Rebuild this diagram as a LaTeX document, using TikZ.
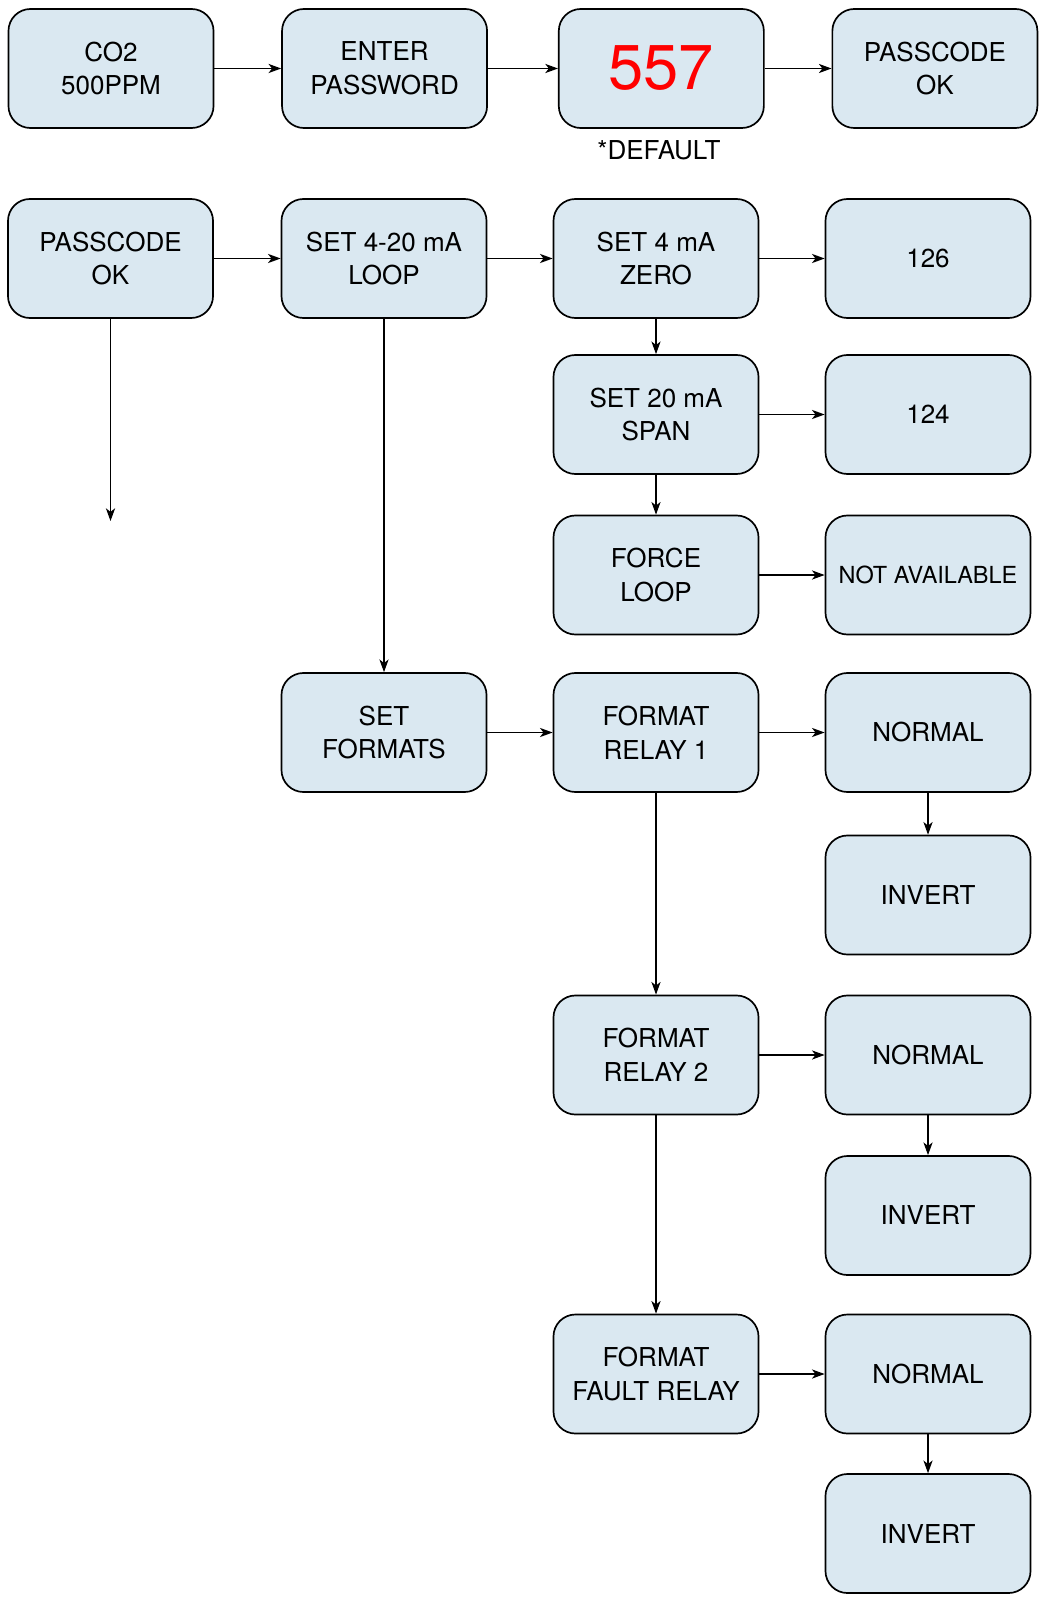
\documentclass[tikz,border=0pt]{standalone}
\usepackage{fontspec}
\setmainfont{TeX Gyre Heros}
\usetikzlibrary{arrows.meta,positioning}
\definecolor{menublue}{RGB}{218,232,241}
\definecolor{codered}{RGB}{255,0,0}

\begin{document}
\begin{tikzpicture}[
    x=0.025cm, y=-0.025cm,
    node distance=1.67cm,
    menu/.style={rectangle, draw, line width=1.2pt, rounded corners=0.55cm, fill=menublue, minimum width=5.125cm, minimum height=2.975cm, align=center, font=\fontsize{18.5}{24}\selectfont},
    arrow/.style={-{Stealth[length=9pt, width=6.5pt, inset=2.5pt]}, line width=0.9pt}
]
\useasboundingbox (0,0) rectangle (1045,1602);

% Password entry
\node[menu] (co2) at (111, 68.5) {CO2\\500PPM};
\node[menu, right=of co2] (pwd) {ENTER\\PASSWORD};
\node[menu, right=1.75cm of pwd, font=\fontsize{45}{45}\selectfont, text=codered] (code) {557};
\node[menu, right=of code] (ok) {PASSCODE\\OK};
\node[font=\fontsize{18.5}{24}\selectfont] (default) at (659, 150) {*DEFAULT};

\draw[arrow] (co2) -- (pwd);
\draw[arrow] (pwd) -- (code);
\draw[arrow] (code) -- (ok);

% Main menu
\node[menu] (pok) at (110.5, 258.5) {PASSCODE\\OK};
\node[menu] (loop) at (384, 258.5) {SET 4-20 mA\\LOOP};
\coordinate (next) at (110.5, 521);

\draw[arrow] (pok) -- (loop);
\draw[arrow] (pok) -- (next);

% 4-20 mA loop
\node[menu] (zero) at (656, 258.5) {SET 4 mA\\ZERO};
\node[menu] (span) at (656, 414.5) {SET 20 mA\\SPAN};
\node[menu] (force) at (656, 575) {FORCE\\LOOP};
\node[menu] (v126) at (928, 258.5) {126};
\node[menu] (v124) at (928, 414.5) {124};
\node[menu, font=\fontsize{16.7}{21}\selectfont] (na) at (928, 575) {NOT AVAILABLE};

\draw[arrow] (loop) -- (zero);
\draw[arrow] (zero) -- (span);
\draw[arrow] (span) -- (force);
\draw[arrow] (zero) -- (v126);
\draw[arrow] (span) -- (v124);
\draw[arrow] (force) -- (na);

% Relay formats
\node[menu] (formats) at (384, 732.5) {SET\\FORMATS};
\node[menu] (relay1) at (656, 732.5) {FORMAT\\RELAY 1};
\node[menu] (relay2) at (656, 1055) {FORMAT\\RELAY 2};
\node[menu] (fault) at (656, 1374) {FORMAT\\FAULT RELAY};

\node[menu] (norm1) at (928, 732.5) {NORMAL};
\node[menu] (inv1) at (928, 895) {INVERT};
\node[menu] (norm2) at (928, 1055) {NORMAL};
\node[menu] (inv2) at (928, 1215.5) {INVERT};
\node[menu] (norm3) at (928, 1374) {NORMAL};
\node[menu] (inv3) at (928, 1533.5) {INVERT};

\draw[arrow] (loop) -- (formats);
\draw[arrow] (formats) -- (relay1);
\draw[arrow] (relay1) -- (relay2);
\draw[arrow] (relay2) -- (fault);
\draw[arrow] (relay1) -- (norm1);
\draw[arrow] (relay2) -- (norm2);
\draw[arrow] (fault) -- (norm3);
\draw[arrow] (norm1) -- (inv1);
\draw[arrow] (norm2) -- (inv2);
\draw[arrow] (norm3) -- (inv3);

\end{tikzpicture}
\end{document}
